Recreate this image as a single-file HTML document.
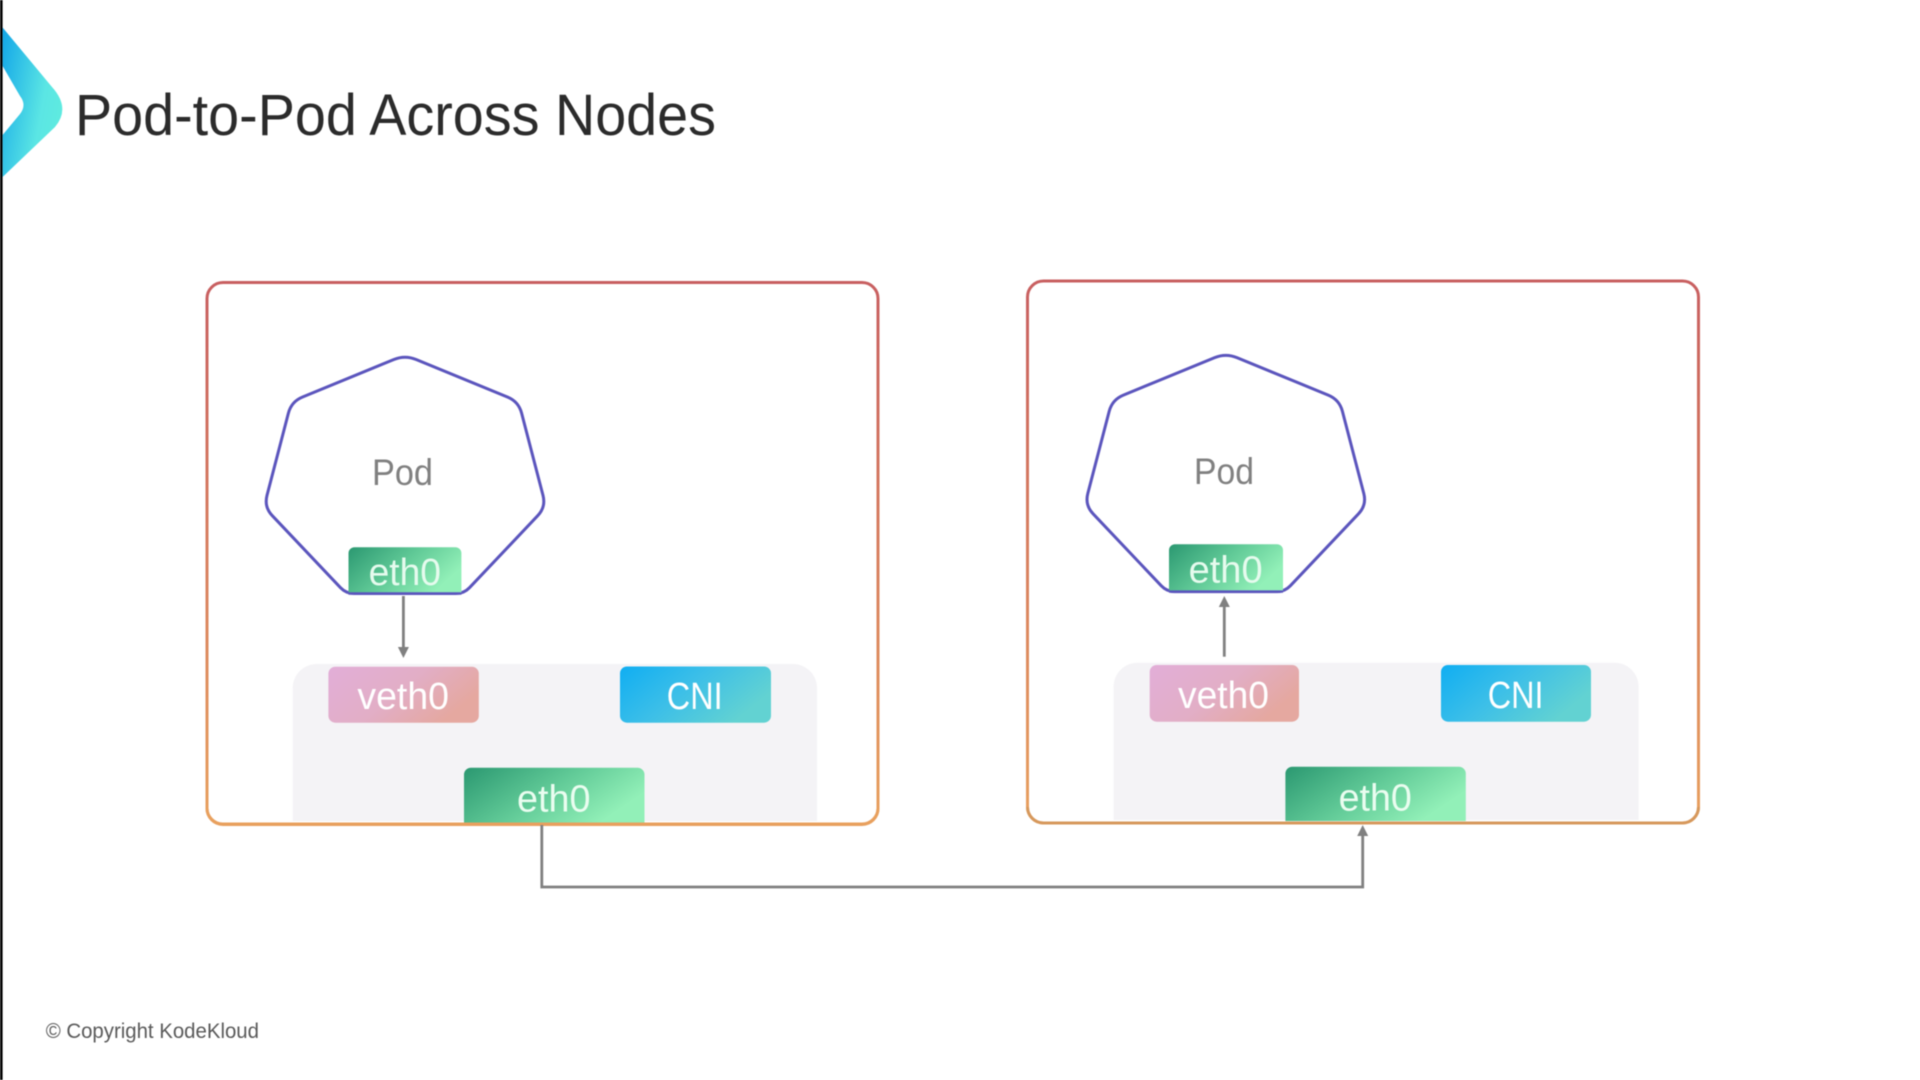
<!DOCTYPE html>
<html>
<head>
<meta charset="utf-8">
<title>Pod-to-Pod Across Nodes</title>
<style>
html,body{margin:0;padding:0;background:#fff;width:1920px;height:1080px;overflow:hidden}
svg{display:block;filter:blur(0.4px)}
text{font-family:"Liberation Sans",sans-serif}
</style>
</head>
<body>
<svg width="1920" height="1080" viewBox="0 0 1920 1080" xmlns="http://www.w3.org/2000/svg">
<defs>
<linearGradient id="chev" x1="0" y1="0" x2="1" y2="0.45"><stop offset="0" stop-color="#12a6e8"/><stop offset="0.75" stop-color="#5be6e4"/><stop offset="1" stop-color="#5eeae0"/></linearGradient>
<linearGradient id="bord" x1="0" y1="0" x2="0" y2="1"><stop offset="0" stop-color="#c85f60"/><stop offset="1" stop-color="#e8a05e"/></linearGradient>
<linearGradient id="green" x1="0" y1="0" x2="1" y2="0.45"><stop offset="0" stop-color="#2b9871"/><stop offset="0.55" stop-color="#62cb98"/><stop offset="1" stop-color="#92f0b8"/></linearGradient>
<linearGradient id="pink" x1="0" y1="0" x2="1" y2="0.45"><stop offset="0" stop-color="#e2aed8"/><stop offset="0.55" stop-color="#e2aec6"/><stop offset="1" stop-color="#e5a8a0"/></linearGradient>
<linearGradient id="blue" x1="0" y1="0" x2="1" y2="0.45"><stop offset="0" stop-color="#10aef2"/><stop offset="0.5" stop-color="#3cbfe8"/><stop offset="1" stop-color="#62d2d2"/></linearGradient>
<path id="hept" fill="none" stroke="#5b55bd" stroke-width="3" d="M416.1 359.5L507.4 397Q518.5 401.5 521.6 413.1L543 495.4Q546 507 537.7 515.7L469.5 587.7Q464 593.5 456 593.5L354 593.5Q346 593.5 340.5 587.7L272.3 515.7Q264 507 267 495.4L288.4 413.1Q291.5 401.5 302.6 397L393.9 359.5Q405 355 416.1 359.5Z"/>
</defs>

<rect x="0" y="0" width="2.6" height="1080" fill="#000"/>

<!-- logo -->
<path d="M2.6 27.5L52 87Q71 108 55 127L2.6 177L2.6 135L20 114Q27 105 20 96L2.6 66Z" fill="url(#chev)"/>
<text x="75" y="135" font-size="58" fill="#2b2b2b" textLength="641" lengthAdjust="spacingAndGlyphs">Pod-to-Pod Across Nodes</text>

<!-- left node -->
<path d="M292.7 821V688a24 24 0 0 1 24-24H793a24 24 0 0 1 24 24V821Z" fill="#f4f3f6"/>
<rect x="207" y="282.5" width="671" height="542" rx="16" fill="none" stroke="url(#bord)" stroke-width="3"/>
<rect x="328.4" y="666.7" width="150.4" height="56" rx="7" fill="url(#pink)"/>
<text x="357.4" y="709" font-size="38" fill="#fff" textLength="91.6" lengthAdjust="spacingAndGlyphs">veth0</text>
<rect x="620" y="666.5" width="151" height="56.2" rx="7" fill="url(#blue)"/>
<text x="666.8" y="709" font-size="38" fill="#fff" textLength="55.8" lengthAdjust="spacingAndGlyphs">CNI</text>
<path d="M464 823V774.7a7 7 0 0 1 7-7H637.5a7 7 0 0 1 7 7V823Z" fill="url(#green)"/>
<text x="517" y="811.7" font-size="38" fill="#eafdf0" textLength="73.5" lengthAdjust="spacingAndGlyphs">eth0</text>
<path d="M207 808v0a16 16 0 0 0 16 16H862a16 16 0 0 0 16-16" fill="none" stroke="#e8a05e" stroke-width="3"/>
<use href="#hept"/>
<path d="M348.5 593V553.3a6 6 0 0 1 6-6H455.4a6 6 0 0 1 6 6V593Z" fill="url(#green)"/>
<path d="M348.5 593.5H461.4" stroke="#5b55bd" stroke-width="2.4"/>
<text x="372" y="485" font-size="37" fill="#808080" textLength="61" lengthAdjust="spacingAndGlyphs">Pod</text>
<text x="368.6" y="585" font-size="38" fill="#e6fbee" textLength="72.4" lengthAdjust="spacingAndGlyphs">eth0</text>
<path d="M403.4 596V648" stroke="#808080" stroke-width="2.8" fill="none"/>
<path d="M397.9 647H408.9L403.4 658Z" fill="#808080"/>

<!-- right node -->
<path d="M1113.6 820V686.7a24 24 0 0 1 24-24H1614.6a24 24 0 0 1 24 24V820Z" fill="#f4f3f6"/>
<rect x="1027.5" y="281" width="671" height="542" rx="16" fill="none" stroke="url(#bord)" stroke-width="3"/>
<rect x="1149.7" y="665" width="149.3" height="56.7" rx="7" fill="url(#pink)"/>
<text x="1178" y="708" font-size="38" fill="#fff" textLength="91" lengthAdjust="spacingAndGlyphs">veth0</text>
<rect x="1441" y="665" width="150" height="56.7" rx="7" fill="url(#blue)"/>
<text x="1487.7" y="708" font-size="38" fill="#fff" textLength="55.8" lengthAdjust="spacingAndGlyphs">CNI</text>
<path d="M1285.4 821V773.7a7 7 0 0 1 7-7H1458.8a7 7 0 0 1 7 7V821Z" fill="url(#green)"/>
<text x="1338.6" y="810.7" font-size="38" fill="#eafdf0" textLength="73.2" lengthAdjust="spacingAndGlyphs">eth0</text>
<path d="M1027.5 807a16 16 0 0 0 16 16H1682.5a16 16 0 0 0 16-16" fill="none" stroke="#d6985c" stroke-width="3"/>
<g transform="translate(820.8 -1.9)"><use href="#hept"/></g>
<path d="M1169 591V550.3a6 6 0 0 1 6-6H1277a6 6 0 0 1 6 6V591Z" fill="url(#green)"/>
<path d="M1169 591.6H1283" stroke="#5b55bd" stroke-width="2.4"/>
<text x="1194" y="484" font-size="37" fill="#808080" textLength="60" lengthAdjust="spacingAndGlyphs">Pod</text>
<text x="1188.6" y="582.7" font-size="38" fill="#e6fbee" textLength="74" lengthAdjust="spacingAndGlyphs">eth0</text>
<path d="M1224.3 656.7V606" stroke="#808080" stroke-width="2.8" fill="none"/>
<path d="M1218.8 607H1229.8L1224.3 596Z" fill="#808080"/>

<!-- connector -->
<path d="M541.8 825V887H1362.7V835" stroke="#808080" stroke-width="2.8" fill="none"/>
<path d="M1357.2 836H1368.2L1362.7 825Z" fill="#808080"/>

<text x="45.7" y="1038" font-size="21" fill="#5a5a5a" textLength="213.3" lengthAdjust="spacingAndGlyphs">© Copyright KodeKloud</text>
</svg>
</body>
</html>
